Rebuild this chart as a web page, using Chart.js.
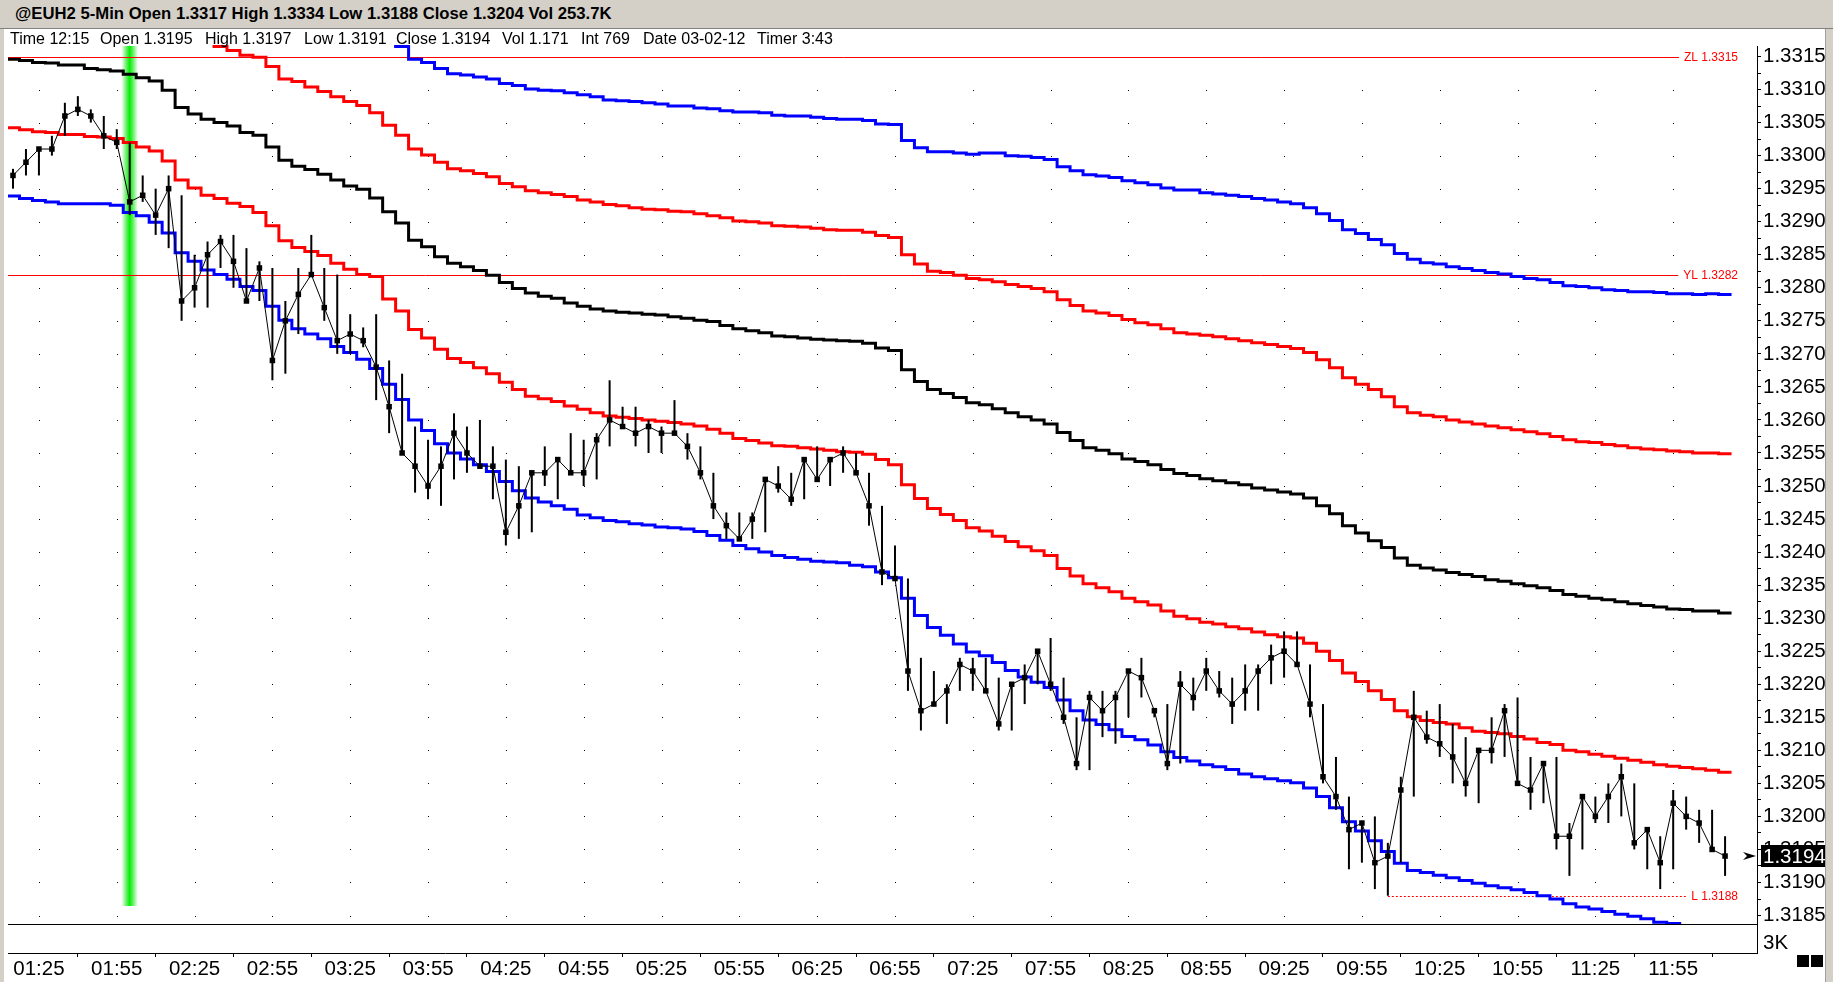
<!DOCTYPE html>
<html>
<head>
<meta charset="utf-8">
<title>@EUH2 5-Min</title>
<script src="https://cdn.jsdelivr.net/npm/chart.js@4.4.1/dist/chart.umd.min.js"></script>
<style>
  html, body { margin: 0; padding: 0; }
  body { width: 1833px; height: 982px; background: #d4d0c8; position: relative; overflow: hidden;
         font-family: "Liberation Sans", Arial, sans-serif; color: #000; }
  #title { position: absolute; left: 0; top: 0; width: 1833px; height: 28px; border-bottom: 1px solid #808080;
           font-weight: bold; font-size: 16.7px; line-height: 28px; white-space: pre; }
  #title span { position: absolute; left: 15px; }
  #panel { position: absolute; left: 4px; top: 29px; width: 1821px; height: 953px; background: #fff;
           border-right: 1px solid #a0a0a0; }
  #info span { position: absolute; top: 0; font-size: 16px; line-height: 20px; white-space: pre; }
  canvas { position: absolute; left: 0; top: 0; }
  .sq { position: absolute; top: 955px; width: 12px; height: 12px; background: #000; }
</style>
</head>
<body>
<div id="title"><span>@EUH2 5-Min Open 1.3317 High 1.3334 Low 1.3188 Close 1.3204 Vol 253.7K</span></div>
<div id="panel">
  <canvas id="chart" width="1821" height="953"></canvas>
  <div id="info">
    <span style="left:6px">Time 12:15</span>
    <span style="left:96px">Open 1.3195</span>
    <span style="left:201px">High 1.3197</span>
    <span style="left:300px">Low 1.3191</span>
    <span style="left:392px">Close 1.3194</span>
    <span style="left:498px">Vol 1.171</span>
    <span style="left:577px">Int 769</span>
    <span style="left:639px">Date 03-02-12</span>
    <span style="left:753px">Timer 3:43</span>
  </div>
</div>
<div class="sq" style="left:1797px"></div>
<div class="sq" style="left:1811px"></div>
<script>
// 5-min bars from 01:15 to 12:15, index 0..132
const timeLabels = ['01:25','01:55','02:25','02:55','03:25','03:55','04:25','04:55','05:25','05:55','06:25',
  '06:55','07:25','07:55','08:25','08:55','09:25','09:55','10:25','10:55','11:25','11:55'];
const labelBars = [2, 8, 14, 20, 26, 32, 38, 44, 50, 56, 62, 68, 74, 80, 86, 92, 98, 104, 110, 116, 122, 128];

const closes = [
  1.3297,1.3299,1.3301,1.3301,1.3306,1.3307,1.3306,1.3303,1.3302,1.3293,
  1.3294,1.3291,1.3295,1.3278,1.3280,1.3285,1.3287,1.3284,1.3278,1.3283,
  1.3269,1.3275,1.3279,1.3282,1.3277,1.3272,1.3273,1.3272,1.3268,1.3262,
  1.3255,1.3253,1.3250,1.3253,1.3258,1.3255,1.3253,1.3253,1.3243,1.3247,
  1.3252,1.3252,1.3254,1.3252,1.3252,1.3257,1.3260,1.3259,1.3258,1.3259,
  1.3258,1.3258,1.3256,1.3252,1.3247,1.3244,1.3242,1.3245,1.3251,1.3250,
  1.3248,1.3254,1.3251,1.3254,1.3255,1.3252,1.3247,1.3237,1.3236,1.3222,
  1.3216,1.3217,1.3219,1.3223,1.3222,1.3219,1.3214,1.3220,1.3221,1.3225,
  1.3220,1.3215,1.3208,1.3218,1.3216,1.3218,1.3222,1.3221,1.3216,1.3208,
  1.3220,1.3218,1.3222,1.3219,1.3217,1.3219,1.3222,1.3224,1.3225,1.3223,
  1.3217,1.3206,1.3203,1.3198,1.3199,1.3193,1.3194,1.3204,1.3215,1.3212,
  1.3211,1.3209,1.3205,1.3210,1.3210,1.3216,1.3205,1.3204,1.3208,1.3197,
  1.3197,1.3203,1.3200,1.3203,1.3206,1.3196,1.3198,1.3193,1.3202,1.3200,
  1.3199,1.3195,1.3194];
const highs = [
  1.3298,1.3301,1.3301,1.3303,1.3308,1.3309,1.3307,1.3306,1.3304,1.3302,
  1.3297,1.3295,1.3297,1.3294,1.3285,1.3287,1.3288,1.3288,1.3286,1.3284,
  1.3283,1.3278,1.3283,1.3288,1.3283,1.3282,1.3276,1.3274,1.3276,1.3269,
  1.3267,1.3259,1.3257,1.3256,1.3261,1.3259,1.3260,1.3256,1.3254,1.3253,
  1.3252,1.3256,1.3254,1.3258,1.3257,1.3258,1.3266,1.3262,1.3262,1.3260,
  1.3259,1.3263,1.3258,1.3256,1.3252,1.3246,1.3246,1.3246,1.3251,1.3253,
  1.3252,1.3254,1.3256,1.3254,1.3256,1.3255,1.3252,1.3247,1.3241,1.3236,
  1.3224,1.3222,1.3220,1.3224,1.3224,1.3224,1.3221,1.3220,1.3223,1.3225,
  1.3227,1.3221,1.3215,1.3219,1.3219,1.3219,1.3222,1.3224,1.3216,1.3217,
  1.3222,1.3221,1.3224,1.3222,1.3221,1.3223,1.3223,1.3226,1.3228,1.3228,
  1.3223,1.3217,1.3209,1.3203,1.3199,1.3200,1.3196,1.3206,1.3219,1.3216,
  1.3217,1.3214,1.3212,1.3210,1.3215,1.3217,1.3218,1.3209,1.3208,1.3209,
  1.3199,1.3203,1.3203,1.3205,1.3208,1.3205,1.3198,1.3197,1.3204,1.3203,
  1.3201,1.3201,1.3197];
const lows = [
  1.3295,1.3297,1.3297,1.3300,1.3303,1.3306,1.3305,1.3301,1.3301,1.3291,
  1.3293,1.3288,1.3286,1.3275,1.3277,1.3277,1.3283,1.3280,1.3278,1.3278,
  1.3266,1.3267,1.3273,1.3282,1.3275,1.3270,1.3270,1.3271,1.3263,1.3258,
  1.3255,1.3249,1.3248,1.3247,1.3251,1.3252,1.3253,1.3248,1.3241,1.3242,
  1.3243,1.3250,1.3248,1.3252,1.3250,1.3251,1.3256,1.3259,1.3256,1.3255,
  1.3255,1.3258,1.3254,1.3251,1.3245,1.3242,1.3242,1.3242,1.3243,1.3249,
  1.3247,1.3248,1.3251,1.3250,1.3252,1.3252,1.3244,1.3235,1.3236,1.3219,
  1.3213,1.3217,1.3214,1.3219,1.3219,1.3219,1.3213,1.3213,1.3217,1.3220,
  1.3219,1.3214,1.3207,1.3207,1.3212,1.3211,1.3215,1.3218,1.3215,1.3207,
  1.3208,1.3216,1.3219,1.3218,1.3214,1.3216,1.3216,1.3220,1.3221,1.3223,
  1.3215,1.3205,1.3201,1.3192,1.3193,1.3189,1.3188,1.3193,1.3203,1.3211,
  1.3209,1.3205,1.3203,1.3202,1.3208,1.3209,1.3205,1.3201,1.3202,1.3195,
  1.3191,1.3195,1.3199,1.3199,1.3200,1.3195,1.3192,1.3189,1.3192,1.3198,
  1.3196,1.3195,1.3191];

// stepped bands (one value per bar)
const upperBlue = [
  1.33355,1.33357,1.33356,1.33356,1.33355,1.33353,1.33349,1.33347,1.33345,1.33330,
  1.33327,1.33327,1.33315,1.33293,1.33286,1.33283,1.33280,1.33277,1.33268,1.33266,
  1.33254,1.33235,1.33230,1.33228,1.33221,1.33215,1.33206,1.33206,1.33194,1.33176,
  1.33165,1.33146,1.33141,1.33132,1.33124,1.33122,1.33119,1.33116,1.33109,1.33106,
  1.33101,1.33099,1.33098,1.33095,1.33092,1.33089,1.33084,1.33083,1.33082,1.33080,
  1.33078,1.33075,1.33075,1.33072,1.33071,1.33068,1.33066,1.33066,1.33065,1.33061,
  1.33060,1.33060,1.33058,1.33056,1.33055,1.33055,1.33053,1.33048,1.33047,1.33023,
  1.33012,1.33006,1.33006,1.33004,1.33002,1.33004,1.33004,1.33000,1.32999,1.32997,
  1.32994,1.32983,1.32977,1.32971,1.32969,1.32967,1.32962,1.32959,1.32956,1.32951,
  1.32948,1.32948,1.32944,1.32942,1.32940,1.32938,1.32935,1.32933,1.32930,1.32927,
  1.32921,1.32912,1.32902,1.32888,1.32882,1.32873,1.32865,1.32852,1.32843,1.32838,
  1.32836,1.32832,1.32829,1.32826,1.32823,1.32821,1.32817,1.32814,1.32812,1.32808,
  1.32803,1.32802,1.32800,1.32797,1.32796,1.32794,1.32794,1.32793,1.32791,1.32791,
  1.32790,1.32791,1.32790];
const upperRed = [
  1.33252,1.33253,1.33252,1.33251,1.33250,1.33248,1.33247,1.33246,1.33244,1.33224,
  1.33223,1.33219,1.33206,1.33183,1.33175,1.33170,1.33165,1.33159,1.33152,1.33149,
  1.33135,1.33116,1.33112,1.33104,1.33097,1.33089,1.33082,1.33076,1.33065,1.33046,
  1.33031,1.33010,1.33001,1.32990,1.32980,1.32977,1.32973,1.32968,1.32958,1.32953,
  1.32947,1.32944,1.32941,1.32938,1.32933,1.32930,1.32926,1.32924,1.32921,1.32919,
  1.32918,1.32916,1.32915,1.32912,1.32909,1.32906,1.32901,1.32900,1.32898,1.32894,
  1.32893,1.32892,1.32890,1.32888,1.32887,1.32887,1.32884,1.32879,1.32876,1.32850,
  1.32836,1.32825,1.32823,1.32819,1.32814,1.32812,1.32809,1.32805,1.32802,1.32799,
  1.32794,1.32782,1.32773,1.32765,1.32762,1.32758,1.32752,1.32747,1.32744,1.32738,
  1.32732,1.32730,1.32728,1.32726,1.32723,1.32720,1.32717,1.32714,1.32711,1.32708,
  1.32702,1.32691,1.32679,1.32664,1.32654,1.32646,1.32635,1.32620,1.32611,1.32607,
  1.32605,1.32600,1.32597,1.32594,1.32591,1.32588,1.32585,1.32582,1.32579,1.32575,
  1.32570,1.32567,1.32566,1.32563,1.32561,1.32558,1.32556,1.32555,1.32553,1.32552,
  1.32550,1.32550,1.32549];
const midLine = [
  1.33146,1.33144,1.33141,1.33140,1.33137,1.33137,1.33132,1.33130,1.33128,1.33123,
  1.33118,1.33113,1.33099,1.33073,1.33063,1.33055,1.33050,1.33045,1.33035,1.33031,
  1.33013,1.32993,1.32984,1.32979,1.32972,1.32963,1.32954,1.32949,1.32936,1.32915,
  1.32898,1.32872,1.32862,1.32847,1.32837,1.32832,1.32826,1.32819,1.32808,1.32799,
  1.32792,1.32787,1.32784,1.32777,1.32772,1.32768,1.32765,1.32763,1.32762,1.32760,
  1.32759,1.32756,1.32754,1.32751,1.32749,1.32743,1.32738,1.32735,1.32732,1.32727,
  1.32726,1.32724,1.32722,1.32721,1.32720,1.32719,1.32716,1.32709,1.32705,1.32676,
  1.32658,1.32646,1.32640,1.32634,1.32626,1.32623,1.32617,1.32611,1.32605,1.32600,
  1.32594,1.32581,1.32569,1.32558,1.32554,1.32549,1.32541,1.32537,1.32532,1.32525,
  1.32519,1.32516,1.32511,1.32508,1.32505,1.32502,1.32497,1.32494,1.32491,1.32488,
  1.32482,1.32470,1.32458,1.32440,1.32429,1.32417,1.32407,1.32391,1.32380,1.32376,
  1.32373,1.32369,1.32366,1.32363,1.32358,1.32356,1.32352,1.32349,1.32346,1.32342,
  1.32336,1.32333,1.32330,1.32328,1.32325,1.32322,1.32319,1.32317,1.32314,1.32313,
  1.32311,1.32311,1.32308];
const lowerRed = [
  1.33042,1.33039,1.33036,1.33035,1.33032,1.33032,1.33029,1.33028,1.33026,1.33020,
  1.33013,1.33007,1.32992,1.32963,1.32951,1.32940,1.32935,1.32928,1.32923,1.32914,
  1.32894,1.32871,1.32861,1.32855,1.32849,1.32837,1.32828,1.32820,1.32817,1.32783,
  1.32765,1.32737,1.32724,1.32707,1.32693,1.32687,1.32679,1.32670,1.32657,1.32646,
  1.32636,1.32632,1.32628,1.32621,1.32616,1.32611,1.32606,1.32604,1.32602,1.32600,
  1.32598,1.32596,1.32594,1.32591,1.32586,1.32580,1.32572,1.32569,1.32565,1.32561,
  1.32560,1.32558,1.32556,1.32554,1.32552,1.32551,1.32548,1.32540,1.32532,1.32502,
  1.32481,1.32466,1.32457,1.32448,1.32437,1.32432,1.32424,1.32416,1.32408,1.32402,
  1.32395,1.32375,1.32364,1.32352,1.32346,1.32340,1.32330,1.32325,1.32320,1.32311,
  1.32303,1.32299,1.32294,1.32291,1.32287,1.32284,1.32279,1.32275,1.32272,1.32270,
  1.32262,1.32250,1.32236,1.32217,1.32204,1.32190,1.32177,1.32160,1.32151,1.32145,
  1.32142,1.32140,1.32134,1.32129,1.32127,1.32125,1.32121,1.32117,1.32112,1.32109,
  1.32100,1.32098,1.32094,1.32091,1.32088,1.32085,1.32082,1.32078,1.32076,1.32074,
  1.32072,1.32070,1.32067];
const lowerBlue = [
  1.32939,1.32935,1.32932,1.32930,1.32927,1.32927,1.32927,1.32927,1.32925,1.32914,
  1.32909,1.32899,1.32883,1.32853,1.32840,1.32827,1.32820,1.32813,1.32802,1.32796,
  1.32772,1.32751,1.32738,1.32730,1.32723,1.32711,1.32702,1.32692,1.32678,1.32654,
  1.32631,1.32600,1.32584,1.32564,1.32550,1.32541,1.32532,1.32522,1.32507,1.32493,
  1.32482,1.32476,1.32470,1.32465,1.32456,1.32452,1.32448,1.32446,1.32443,1.32441,
  1.32438,1.32437,1.32435,1.32431,1.32425,1.32418,1.32410,1.32405,1.32400,1.32395,
  1.32392,1.32389,1.32386,1.32385,1.32384,1.32380,1.32378,1.32370,1.32361,1.32330,
  1.32304,1.32286,1.32274,1.32261,1.32249,1.32243,1.32233,1.32221,1.32211,1.32203,
  1.32195,1.32176,1.32160,1.32146,1.32139,1.32131,1.32121,1.32116,1.32108,1.32098,
  1.32089,1.32084,1.32078,1.32075,1.32071,1.32064,1.32060,1.32057,1.32054,1.32051,
  1.32043,1.32030,1.32013,1.31992,1.31978,1.31963,1.31947,1.31929,1.31918,1.31915,
  1.31911,1.31907,1.31903,1.31899,1.31895,1.31892,1.31889,1.31885,1.31880,1.31875,
  1.31868,1.31863,1.31860,1.31856,1.31852,1.31849,1.31845,1.31840,1.31838,1.31832,
  1.31829,1.31826,1.31823];

const refNames = ['ZL', 'YL'];
const refLevels = [1.3315, 1.3282];
const sessionLowName = 'L';
const highlightBar = 9;
const volLabel = '3K';

// price ticks every 0.00025, labelled every 0.0005
const priceTicks = [];
for (let k = 0; k <= 52; k++) priceTicks.push(+(1.3185 + k * 0.00025).toFixed(5));

const VOL_H = 29;   // height of the (empty) volume pane under the price pane
const FONT = '"Liberation Sans", Arial, sans-serif';

const steps = arr => arr.flatMap((v, i) => [{ x: i - 0.5, y: v }, { x: i + 0.5, y: v }]);
const clip = { left: 0, top: 1, right: 0, bottom: -VOL_H };

function band(data, color) {
  return {
    type: 'line', data: steps(data), borderColor: color, borderWidth: 3,
    pointRadius: 0, tension: 0, borderCapStyle: 'butt', borderJoinStyle: 'miter',
    clip, order: 5
  };
}

const decor = {
  id: 'decor',
  beforeDatasetsDraw(chart) {
    const { ctx, chartArea: a, scales: { x, y } } = chart;
    const sep = a.bottom - VOL_H;
    ctx.save();

    // dotted grid
    ctx.fillStyle = '#000';
    for (const b of labelBars) {
      const px = Math.round(x.getPixelForValue(b));
      priceTicks.forEach((v, k) => {
        if (k % 2) return;
        ctx.fillRect(px, Math.round(y.getPixelForValue(v)), 1, 1);
      });
    }

    // highlighted bar
    const gx = x.getPixelForValue(highlightBar);
    const g = ctx.createLinearGradient(gx - 8, 0, gx + 8, 0);
    g.addColorStop(0, '#f4fff4');
    g.addColorStop(0.25, '#7cf07c');
    g.addColorStop(0.5, '#00f000');
    g.addColorStop(0.75, '#7cf07c');
    g.addColorStop(1, '#f4fff4');
    ctx.fillStyle = g;
    ctx.fillRect(gx - 8, a.top, 16, sep - 18 - a.top);

    // pane separator
    ctx.fillStyle = '#000';
    ctx.fillRect(a.left, sep, a.right - a.left, 1);

    // reference levels
    ctx.font = '12px ' + FONT;
    ctx.textBaseline = 'middle';
    ctx.textAlign = 'right';
    const labelRight = a.right - 19;
    const drawLevel = (name, lv, fromX, dashed) => {
      const py = Math.round(y.getPixelForValue(lv)) + 0.5;
      const txt = name + ' ' + lv.toFixed(4);
      const w = ctx.measureText(txt).width;
      ctx.strokeStyle = '#ff0000';
      ctx.lineWidth = 1;
      ctx.setLineDash(dashed ? [2, 2] : []);
      ctx.beginPath();
      ctx.moveTo(fromX, py);
      ctx.lineTo(labelRight - w - 5, py);
      ctx.stroke();
      ctx.fillStyle = '#ff0000';
      ctx.fillText(txt, labelRight, py);
    };
    refLevels.forEach((lv, k) => drawLevel(refNames[k], lv, a.left, false));
    const lowVal = Math.min(...lows);
    const lowIdx = lows.indexOf(lowVal);
    drawLevel(sessionLowName, lowVal, x.getPixelForValue(lowIdx), true);
    ctx.restore();
  },
  afterDraw(chart) {
    const { ctx, chartArea: a, scales: { y } } = chart;
    const last = closes[closes.length - 1];
    const py = y.getPixelForValue(last);
    ctx.save();
    ctx.fillStyle = '#000';
    ctx.fillRect(a.right + 4, Math.round(py) - 11, 65, 22);
    ctx.beginPath();
    ctx.moveTo(a.right - 14, py - 4);
    ctx.lineTo(a.right - 1, py);
    ctx.lineTo(a.right - 14, py + 4);
    ctx.lineTo(a.right - 10, py);
    ctx.closePath();
    ctx.fill();
    ctx.font = '20.5px ' + FONT;
    ctx.textBaseline = 'middle';
    ctx.textAlign = 'left';
    ctx.fillStyle = '#fff';
    ctx.fillText(last.toFixed(4), a.right + 6, py + 1);
    ctx.fillStyle = '#000';
    ctx.fillText(volLabel, a.right + 6, a.bottom - 10);
    ctx.restore();
  }
};

new Chart(document.getElementById('chart'), {
  type: 'line',
  data: {
    datasets: [
      {
        type: 'line', data: closes.map((c, i) => ({ x: i, y: c })),
        borderColor: '#000', borderWidth: 1, tension: 0,
        pointStyle: 'rect', pointRadius: 3.9, pointBorderWidth: 0,
        pointBackgroundColor: '#000', clip, order: 0
      },
      {
        type: 'bar', data: lows.map((l, i) => ({ x: i, y: [l, highs[i]] })),
        backgroundColor: '#000', borderWidth: 0, barThickness: 2, inflateAmount: 0,
        clip, order: 1
      },
      band(upperBlue, '#0000ff'),
      band(upperRed, '#ff0000'),
      band(midLine, '#000000'),
      band(lowerRed, '#ff0000'),
      band(lowerBlue, '#0000ff')
    ]
  },
  options: {
    responsive: false,
    animation: false,
    devicePixelRatio: 1,
    events: [],
    layout: { padding: { top: 17, left: 0, right: 0, bottom: 0 } },
    plugins: { legend: { display: false }, tooltip: { enabled: false } },
    scales: {
      x: {
        type: 'linear', position: 'bottom', offset: false,
        min: -5 / 13, max: -5 / 13 + 1753 / 13,
        afterBuildTicks: s => { s.ticks = labelBars.map(v => ({ value: v })); },
        afterFit: s => { s.height = 29; },
        grid: { drawOnChartArea: false, drawTicks: true, tickLength: 4, color: '#000' },
        border: { display: true, color: '#000', width: 1 },
        ticks: {
          autoSkip: false, maxRotation: 0, padding: 0, color: '#000',
          font: { family: FONT, size: 20.5 },
          callback: (v, i) => timeLabels[i]
        }
      },
      y: {
        type: 'linear', position: 'right',
        min: 1.317933, max: 1.331659,
        afterBuildTicks: s => { s.ticks = priceTicks.map(v => ({ value: v })); },
        afterFit: s => { s.width = 68; },
        grid: { drawOnChartArea: false, drawTicks: true, tickLength: 4, color: '#000' },
        border: { display: true, color: '#000', width: 1 },
        ticks: {
          autoSkip: false, padding: 2, color: '#000',
          font: { family: FONT, size: 20.5 },
          callback: (v, i) => (i % 2 === 0 ? v.toFixed(4) : '')
        }
      }
    }
  },
  plugins: [decor]
});
</script>
</body>
</html>
